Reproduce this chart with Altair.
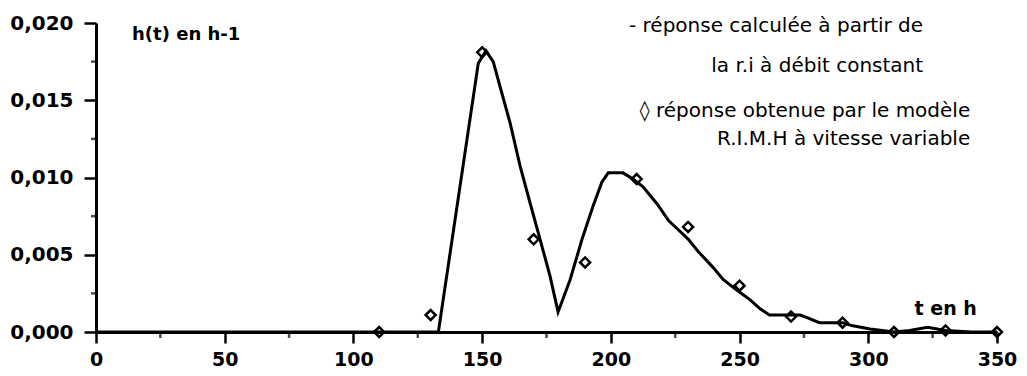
import altair as alt
import pandas as pd

# continuous response (line)
curve_t = [0, 133, 148.5, 151.5, 154.3, 156.6, 160.9, 164.8, 168.7, 172.5, 176.4, 179.5,
           184.2, 188.8, 193, 196.5, 199, 204.7, 208.6, 212.5, 217.9, 222.5, 226.3, 230.1,
           234, 239.6, 243.6, 249, 254, 258, 261.6, 273.5, 276, 281, 290, 294, 300.7, 310,
           316, 323, 330, 340, 350]
curve_h = [0, 0, 0.0174, 0.0182, 0.0175, 0.0161, 0.0135, 0.0107, 0.0083, 0.0060, 0.0036, 0.0013,
           0.0034, 0.0060, 0.0081, 0.0097, 0.0103, 0.0103, 0.0099, 0.0094, 0.0083, 0.0072, 0.0066, 0.0060,
           0.0052, 0.0042, 0.0034, 0.0027, 0.0021, 0.0015, 0.0011, 0.0011, 0.00095, 0.0006, 0.0006, 0.0004, 0.0002, 0.0,
           0.0001, 0.0003, 0.0001, 0.0, 0.0]

# model response (diamonds)
pts_t = [110, 130, 150, 170, 190, 210, 230, 250, 270, 290, 310, 330, 350]
pts_h = [0.0, 0.0011, 0.0181, 0.0060, 0.0045, 0.0099, 0.0068, 0.0030, 0.0010, 0.0006, 0.0, 0.0001, 0.0]

x_ticks = [0, 50, 100, 150, 200, 250, 300, 350]
y_ticks = [0, 0.005, 0.010, 0.015, 0.020]
x_minor = [25, 75, 125, 175, 225, 275, 325]
y_minor = [0.0025, 0.0075, 0.0125, 0.0175]

curve_df = pd.DataFrame({"t": curve_t, "h": curve_h})
pts_df = pd.DataFrame({"t": pts_t, "h": pts_h})
xminor_df = pd.DataFrame({"t": x_minor, "h": [0] * len(x_minor)})
yminor_df = pd.DataFrame({"t": [0] * len(y_minor), "h": y_minor})

FONT = "DejaVu Sans"

xscale = alt.Scale(domain=[0, 350], nice=False, zero=False)
yscale = alt.Scale(domain=[0, 0.02], nice=False, zero=False)

xaxis = alt.Axis(values=x_ticks, title=None, grid=False, labelFont=FONT, labelFontWeight="bold",
                 labelFontSize=19, labelColor="black", domainColor="black", domainWidth=3,
                 tickColor="black", tickWidth=2.5, tickSize=11, labelPadding=7, labelFlush=False)
yaxis = alt.Axis(values=y_ticks, title=None, grid=False, labelFont=FONT, labelFontWeight="bold",
                 labelFontSize=20, labelColor="black", domainColor="black", domainWidth=3,
                 tickColor="black", tickWidth=2.5, tickSize=12, labelPadding=11,
                 labelExpr="replace(format(datum.value, '.3f'), '.', ',')")

line = alt.Chart(curve_df).mark_line(color="black", strokeWidth=3).encode(
    x=alt.X("t:Q", scale=xscale, axis=xaxis),
    y=alt.Y("h:Q", scale=yscale, axis=yaxis),
)

points = alt.Chart(pts_df).mark_point(shape="diamond", filled=False, color="black",
                                      size=100, strokeWidth=2.5, opacity=1).encode(
    x="t:Q", y="h:Q"
)

xminor = alt.Chart(xminor_df).mark_tick(orient="vertical", size=6, thickness=2.5,
                                        color="black", yOffset=3).encode(x="t:Q", y="h:Q")
yminor = alt.Chart(yminor_df).mark_tick(orient="horizontal", size=5, thickness=2.5,
                                        color="black", xOffset=-2.5).encode(x="t:Q", y="h:Q")

def label(text, t, h, align="left", bold=False, size=20):
    return alt.Chart(pd.DataFrame({"txt": [text]})).mark_text(
        align=align, baseline="alphabetic", font=FONT, fontSize=size,
        fontWeight="bold" if bold else "normal", color="black"
    ).encode(x=alt.datum(t), y=alt.datum(h), text="txt:N")

texts = [
    label("h(t) en h-1", 14, 0.0189, bold=True, size=18),
    label("t en h", 318, 0.0011, bold=True, size=19),
    label("- réponse calculée à partir de", 321.3, 0.0194, align="right"),
    label("la r.i à débit constant", 321.3, 0.01683, align="right"),
    label("◊ réponse obtenue par le modèle", 339.6, 0.0139, align="right"),
    label("R.I.M.H à vitesse variable", 339.6, 0.0121, align="right"),
]

chart = alt.layer(line, xminor, yminor, points, *texts).properties(
    width=901, height=309,
    padding={"left": 88, "top": 15, "right": 22, "bottom": 36},
    autosize=alt.AutoSizeParams(type="none"),
    background="white",
).configure_view(stroke=None)

chart.save("out.html", embed_options={"renderer": "svg", "actions": False})
